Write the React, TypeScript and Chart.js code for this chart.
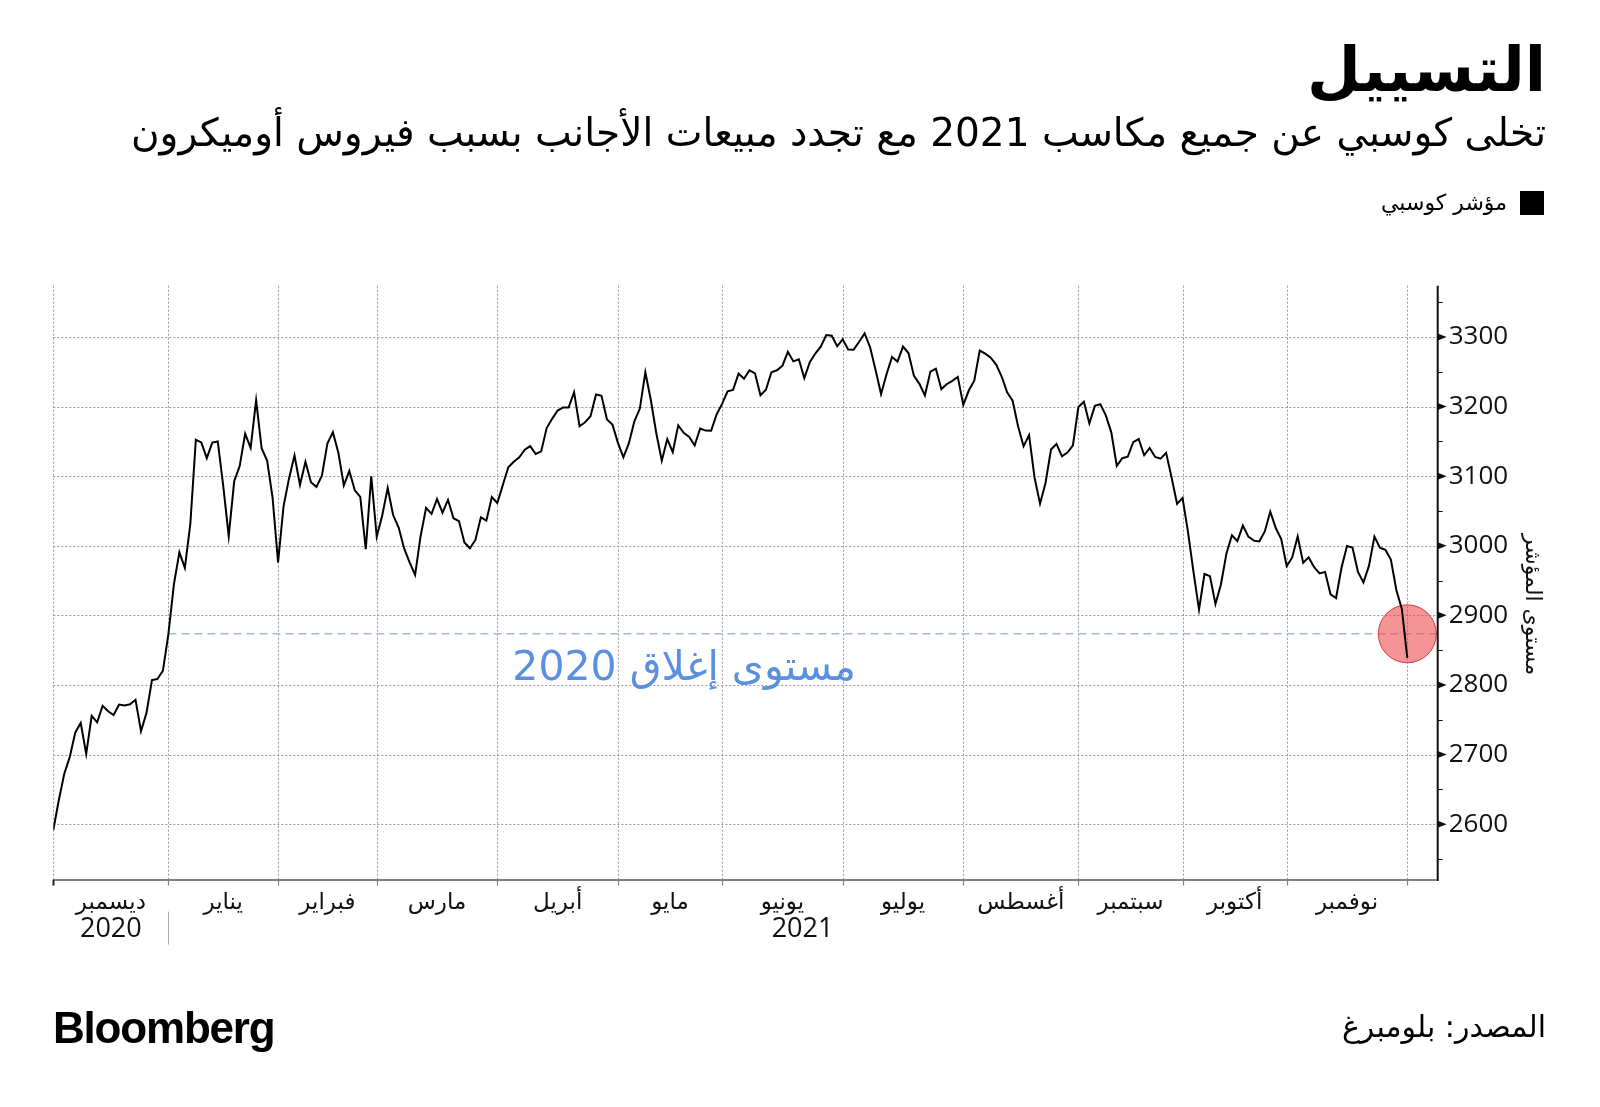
import React, { useEffect, useRef } from "react";
import { Chart, registerables } from "chart.js";

Chart.register(...registerables);

// KOSPI daily closes, grouped by month (trading days)
const dec2020 = [2591.34, 2634.25, 2672.43, 2696.22, 2731.45, 2745.44, 2700.93, 2755.47, 2746.24, 2770.06, 2762.2, 2756.82, 2771.79, 2770.43, 2772.18, 2778.65, 2733.68, 2759.82, 2806.86, 2808.6, 2820.51, 2873.47];
const jan2021 = [2944.45, 2990.57, 2968.21, 3031.68, 3152.18, 3148.45, 3125.95, 3148.29, 3149.93, 3085.9, 3013.93, 3092.66, 3114.55, 3160.84, 3140.63, 3208.99, 3140.31, 3122.56, 3069.05, 2976.21];
const feb2021 = [3056.53, 3096.81, 3129.68, 3087.55, 3120.63, 3091.24, 3084.67, 3100.58, 3147.0, 3163.25, 3133.73, 3086.66, 3107.62, 3079.75, 3070.09, 2994.98, 3099.69, 3012.95];
const mar2021 = [3043.49, 3082.99, 3043.87, 3026.26, 2996.11, 2976.12, 2958.12, 3013.7, 3054.39, 3045.71, 3067.17, 3047.5, 3066.01, 3039.53, 3035.46, 3004.74, 2996.35, 3008.33, 3041.01, 3036.04, 3070.0, 3061.42];
const apr2021 = [3087.4, 3112.8, 3120.83, 3127.2, 3137.93, 3143.26, 3131.88, 3135.59, 3169.08, 3182.38, 3194.33, 3198.84, 3198.62, 3220.7, 3171.66, 3177.52, 3186.1, 3217.53, 3215.42, 3181.47, 3174.07, 3147.86];
const may2021 = [3127.2, 3147.37, 3178.74, 3197.2, 3249.3, 3209.43, 3161.66, 3122.11, 3153.32, 3134.52, 3173.05, 3162.28, 3156.42, 3144.3, 3168.43, 3165.51, 3165.24, 3188.73, 3203.92];
const jun2021 = [3221.87, 3223.85, 3247.43, 3240.08, 3252.12, 3247.83, 3216.18, 3224.23, 3249.32, 3252.13, 3258.63, 3278.68, 3264.96, 3267.93, 3240.79, 3263.88, 3276.19, 3286.1, 3302.84, 3301.89, 3286.68, 3296.68];
const jul2021 = [3282.06, 3281.78, 3293.21, 3305.21, 3285.34, 3252.68, 3217.95, 3246.47, 3271.38, 3264.81, 3286.22, 3276.91, 3244.04, 3232.7, 3215.96, 3250.21, 3254.42, 3224.95, 3232.34, 3236.86, 3242.65, 3202.32];
const aug2021 = [3223.04, 3237.14, 3280.38, 3276.13, 3270.36, 3260.42, 3243.19, 3220.62, 3208.38, 3171.29, 3143.09, 3158.93, 3097.83, 3060.51, 3090.21, 3138.3, 3146.32, 3128.53, 3133.9, 3144.19, 3199.27];
const sep2021 = [3207.02, 3175.85, 3201.06, 3203.33, 3187.42, 3162.99, 3114.7, 3125.76, 3127.86, 3148.83, 3153.4, 3130.09, 3140.51, 3127.58, 3125.24, 3133.64, 3097.92, 3060.27, 3068.82];
const oct2021 = [3019.18, 2962.17, 2908.31, 2959.46, 2956.3, 2916.38, 2944.41, 2988.64, 3015.06, 3006.68, 3029.04, 3013.13, 3007.33, 3006.16, 3020.54, 3049.08, 3025.49, 3009.55, 2970.68];
const nov2021 = [2983.22, 3013.49, 2975.71, 2983.29, 2969.27, 2960.2, 2962.46, 2930.17, 2924.92, 2968.8, 2999.52, 2997.33, 2962.42, 2947.38, 2971.02, 3013.25, 2997.33, 2994.29, 2980.27, 2936.44, 2909.32, 2839.01];

const monthLabels = ["ديسمبر", "يناير", "فبراير", "مارس", "أبريل", "مايو", "يونيو", "يوليو", "أغسطس", "سبتمبر", "أكتوبر", "نوفمبر"];
const yearLabels = ["2020", "2021"];
const yTicks = [2600, 2700, 2800, 2900, 3000, 3100, 3200, 3300];
const yMinor = [2550, 2650, 2750, 2850, 2950, 3050, 3150, 3250, 3350];
const close2020 = 2873.47;

const titleText = "التسييل";
const subtitleText = "تخلى كوسبي عن جميع مكاسب 2021 مع تجدد مبيعات الأجانب بسبب فيروس أوميكرون";
const legendText = "مؤشر كوسبي";
const yAxisTitle = "مستوى المؤشر";
const annotationText = "مستوى إغلاق 2020";
const sourceText = "المصدر: بلومبرغ";
const brandText = "Bloomberg";

const months = [dec2020, jan2021, feb2021, mar2021, apr2021, may2021, jun2021, jul2021, aug2021, sep2021, oct2021, nov2021];

export default function App() {
  const ref = useRef<HTMLCanvasElement | null>(null);

  useEffect(() => {
    document.body.style.margin = "0";
    document.body.style.overflow = "hidden";
    const canvas = ref.current;
    if (!canvas) return;

    const closes = months.flat();
    const points = closes.map((v, i) => ({ x: i, y: v }));
    const monthEnds: number[] = [];
    let acc = -1;
    months.forEach((m) => {
      acc += m.length;
      monthEnds.push(acc);
    });
    const lastIdx = closes.length - 1;
    const xMax = lastIdx + 5.36;

    const decor = {
      id: "decor",
      beforeDatasetsDraw(chart: any) {
        const { ctx, chartArea: a, scales } = chart;
        const x = scales.x;
        const y = scales.y;
        ctx.save();
        ctx.strokeStyle = "#9a9a9a";
        ctx.lineWidth = 1;
        ctx.setLineDash([2, 2]);
        yTicks.forEach((v) => {
          const py = Math.round(y.getPixelForValue(v)) + 0.5;
          ctx.beginPath();
          ctx.moveTo(a.left, py);
          ctx.lineTo(a.right, py);
          ctx.stroke();
        });
        [0, ...monthEnds].forEach((i) => {
          const px = Math.round(x.getPixelForValue(i)) + 0.5;
          ctx.beginPath();
          ctx.moveTo(px, a.top);
          ctx.lineTo(px, a.bottom);
          ctx.stroke();
        });
        ctx.restore();
      },
      afterDraw(chart: any) {
        const { ctx, chartArea: a, scales } = chart;
        const x = scales.x;
        const y = scales.y;
        ctx.save();
        ctx.setLineDash([]);
        // x axis line
        ctx.strokeStyle = "#808080";
        ctx.lineWidth = 2;
        ctx.beginPath();
        ctx.moveTo(a.left, a.bottom + 0.5);
        ctx.lineTo(a.right, a.bottom + 0.5);
        ctx.stroke();
        // x ticks
        [0, ...monthEnds].forEach((i, k) => {
          const px = Math.round(x.getPixelForValue(i)) + 0.5;
          ctx.strokeStyle = k === 0 ? "#222" : "#808080";
          ctx.lineWidth = k === 0 ? 2 : 1.2;
          ctx.beginPath();
          ctx.moveTo(px, a.bottom);
          ctx.lineTo(px, a.bottom + 6);
          ctx.stroke();
        });
        // y axis line
        ctx.strokeStyle = "#111";
        ctx.lineWidth = 2;
        ctx.beginPath();
        ctx.moveTo(a.right + 1, a.top);
        ctx.lineTo(a.right + 1, a.bottom + 1.5);
        ctx.stroke();
        // major tick triangles
        ctx.fillStyle = "#111";
        yTicks.forEach((v) => {
          const py = y.getPixelForValue(v);
          ctx.beginPath();
          ctx.moveTo(a.right + 1, py - 3.5);
          ctx.lineTo(a.right + 10, py);
          ctx.lineTo(a.right + 1, py + 3.5);
          ctx.closePath();
          ctx.fill();
        });
        // minor ticks
        ctx.lineWidth = 1;
        yMinor.forEach((v) => {
          const py = Math.round(y.getPixelForValue(v)) + 0.5;
          ctx.beginPath();
          ctx.moveTo(a.right + 1, py);
          ctx.lineTo(a.right + 6, py);
          ctx.stroke();
        });

        // month labels
        ctx.fillStyle = "#111";
        ctx.direction = "rtl";
        ctx.textAlign = "center";
        ctx.textBaseline = "middle";
        ctx.font = '23px "DejaVu Sans"';
        monthLabels.forEach((lab, k) => {
          const start = k === 0 ? 0 : monthEnds[k - 1];
          const c = (start + monthEnds[k]) / 2;
          ctx.fillText(lab, x.getPixelForValue(c), a.bottom + 23);
        });
        // year labels
        ctx.direction = "ltr";
        ctx.font = '27px "Open Sans"';
        const spans = [
          [0, monthEnds[0]],
          [monthEnds[0], xMax],
        ];
        yearLabels.forEach((lab, k) => {
          const c = (spans[k][0] + spans[k][1]) / 2;
          ctx.fillText(lab, x.getPixelForValue(c), a.bottom + 50);
        });
        // year separator
        const sx = Math.round(x.getPixelForValue(monthEnds[0])) + 0.5;
        ctx.strokeStyle = "#aaa";
        ctx.lineWidth = 1;
        ctx.beginPath();
        ctx.moveTo(sx, a.bottom + 32);
        ctx.lineTo(sx, a.bottom + 65);
        ctx.stroke();

        // y axis title (rotated)
        ctx.save();
        ctx.translate(a.right + 95, (a.top + a.bottom) / 2 + 22);
        ctx.rotate(Math.PI / 2);
        ctx.direction = "rtl";
        ctx.textAlign = "center";
        ctx.textBaseline = "middle";
        ctx.font = '22px "DejaVu Sans"';
        ctx.fillStyle = "#111";
        ctx.fillText(yAxisTitle, 0, 0);
        ctx.restore();

        // annotation
        ctx.direction = "rtl";
        ctx.textAlign = "right";
        ctx.textBaseline = "middle";
        ctx.font = '41px "DejaVu Sans"';
        ctx.fillStyle = "#5b8fe0";
        ctx.fillText(annotationText, 856, y.getPixelForValue(close2020) + 36);

        // title, subtitle, legend
        ctx.textBaseline = "alphabetic";
        ctx.fillStyle = "#000";
        ctx.font = 'bold 62px "DejaVu Sans"';
        ctx.fillText(titleText, 1546, 91);
        ctx.font = '39px "DejaVu Sans"';
        ctx.fillText(subtitleText, 1546, 146);
        ctx.fillRect(1520, 191, 24, 24);
        ctx.font = '22px "DejaVu Sans"';
        ctx.fillText(legendText, 1507, 210);

        // footer
        ctx.font = '30px "DejaVu Sans"';
        ctx.fillText(sourceText, 1546, 1037);
        ctx.direction = "ltr";
        ctx.textAlign = "left";
        ctx.font = 'bold 44px "Liberation Sans"';
        (ctx as any).letterSpacing = "-1.2px";
        ctx.fillText(brandText, 53, 1043);
        ctx.restore();
      },
    };

    const chart = new Chart(canvas, {
      type: "line",
      data: {
        datasets: [
          {
            data: points,
            borderColor: "#000",
            borderWidth: 2,
            pointRadius: 0,
            tension: 0,
            order: 1,
          },
          {
            data: [
              { x: monthEnds[0], y: close2020 },
              { x: xMax, y: close2020 },
            ],
            borderColor: "#9dbbe8",
            borderWidth: 1.5,
            borderDash: [8, 5],
            pointRadius: 0,
            order: 3,
          },
          {
            data: [{ x: lastIdx, y: close2020 }],
            showLine: false,
            pointRadius: 29,
            pointBackgroundColor: "rgba(236, 60, 60, 0.55)",
            pointBorderColor: "#d43a3a",
            pointBorderWidth: 1,
            clip: false,
            order: 2,
          },
        ],
      },
      options: {
        responsive: false,
        animation: false,
        devicePixelRatio: 1,
        layout: { padding: { left: 53.3, right: 53.3, top: 285.7, bottom: 227.4 } },
        plugins: { legend: { display: false }, tooltip: { enabled: false }, title: { display: false } },
        scales: {
          x: { type: "linear", display: false, min: 0, max: xMax },
          y: {
            type: "linear",
            position: "right",
            min: 2520.3,
            max: 3373.7,
            grid: { display: false, drawTicks: false },
            border: { display: false },
            afterBuildTicks: (s: any) => {
              s.ticks = yTicks.map((v) => ({ value: v }));
            },
            afterFit: (s: any) => {
              s.width = 110;
            },
            ticks: {
              padding: 12,
              color: "#111",
              font: { family: '"Open Sans"', size: 26 },
              callback: (v: any) => String(v),
            },
          },
        },
      },
      plugins: [decor],
    });

    return () => chart.destroy();
  }, []);

  return (
    <div style={{ width: 1600, height: 1107, position: "relative", background: "#fff" }}>
      <canvas ref={ref} width={1600} height={1107} style={{ width: 1600, height: 1107, display: "block" }} />
    </div>
  );
}
